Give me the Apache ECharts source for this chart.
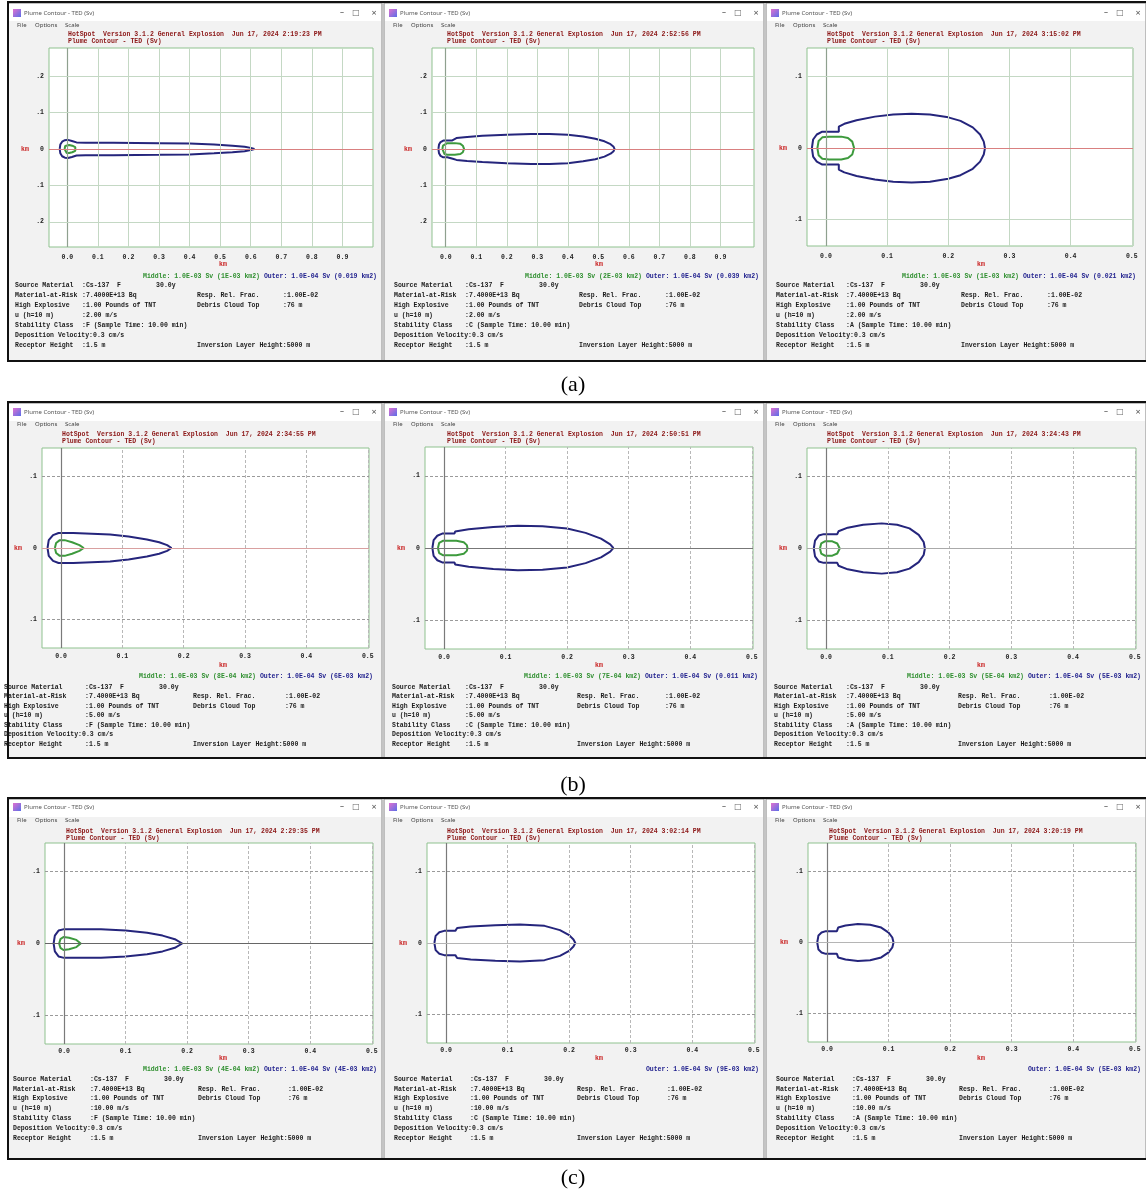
<!DOCTYPE html>
<html>
<head>
<meta charset="utf-8">
<script src="https://cdn.jsdelivr.net/npm/echarts@6/dist/echarts.min.js"></script>
<style>
  html, body { margin: 0; padding: 0; background: #fff; }
  #chart { width: 1146px; height: 1195px; }
</style>
</head>
<body>
<div id="chart"></div>
<script>
// ---- data (km), upper half of each contour, left end -> tip ----
const outerA1 = [[-0.025,0],[-0.023,0.012],[-0.017,0.020],[-0.008,0.024],[0.002,0.025],[0.015,0.022],[0.03,0.018],[0.06,0.017],[0.15,0.017],[0.3,0.016],[0.4,0.015],[0.48,0.012],[0.54,0.009],[0.58,0.006],[0.6,0.003],[0.612,0]];
const middleA1 = [[-0.009,0],[-0.007,0.008],[-0.002,0.011],[0.006,0.011],[0.016,0.009],[0.026,0.005],[0.032,0]];
const outerA2 = [[-0.024,0],[-0.022,0.012],[-0.017,0.019],[-0.008,0.023],[0.005,0.023],[0.02,0.023],[0.023,0.027],[0.035,0.03],[0.07,0.033],[0.12,0.036],[0.2,0.039],[0.28,0.041],[0.34,0.041],[0.4,0.039],[0.45,0.034],[0.49,0.028],[0.52,0.021],[0.54,0.013],[0.55,0.006],[0.553,0]];
const middleA2 = [[-0.011,0],[-0.009,0.009],[-0.004,0.014],[0.005,0.016],[0.03,0.016],[0.048,0.014],[0.056,0.009],[0.06,0]];
const outerA3 = [[-0.023,0],[-0.021,0.012],[-0.015,0.019],[-0.006,0.023],[0.021,0.023],[0.021,0.03],[0.03,0.034],[0.05,0.039],[0.08,0.044],[0.11,0.047],[0.14,0.048],[0.17,0.047],[0.2,0.043],[0.22,0.038],[0.24,0.029],[0.252,0.019],[0.258,0.009],[0.26,0]];
const middleA3 = [[-0.014,0],[-0.012,0.01],[-0.006,0.015],[0.005,0.016],[0.025,0.016],[0.036,0.014],[0.043,0.009],[0.046,0]];
const outerB1 = [[-0.022,0],[-0.02,0.011],[-0.013,0.018],[-0.004,0.021],[0.02,0.021],[0.05,0.02],[0.08,0.019],[0.11,0.016],[0.14,0.012],[0.16,0.008],[0.173,0.004],[0.18,0]];
const middleB1 = [[-0.01,0],[-0.008,0.007],[-0.002,0.011],[0.006,0.011],[0.018,0.008],[0.03,0.004],[0.037,0]];
const outerB2 = [[-0.019,0],[-0.017,0.011],[-0.011,0.017],[-0.003,0.02],[0.017,0.02],[0.018,0.023],[0.04,0.026],[0.08,0.029],[0.12,0.031],[0.16,0.03],[0.2,0.027],[0.23,0.021],[0.255,0.013],[0.27,0.005],[0.275,0]];
const middleB2 = [[-0.01,0],[-0.008,0.007],[-0.002,0.01],[0.02,0.01],[0.032,0.008],[0.037,0.004],[0.038,0]];
const outerB3 = [[-0.02,0],[-0.018,0.011],[-0.012,0.018],[-0.004,0.02],[0.018,0.02],[0.02,0.024],[0.035,0.029],[0.06,0.033],[0.09,0.035],[0.115,0.033],[0.135,0.028],[0.15,0.019],[0.158,0.009],[0.16,0]];
const middleB3 = [[-0.01,0],[-0.008,0.007],[-0.002,0.01],[0.01,0.01],[0.018,0.007],[0.022,0]];
const outerC1 = [[-0.017,0],[-0.015,0.011],[-0.009,0.018],[0.0,0.02],[0.06,0.02],[0.1,0.018],[0.135,0.015],[0.16,0.011],[0.18,0.006],[0.192,0]];
const middleC1 = [[-0.008,0],[-0.006,0.006],[-0.001,0.009],[0.008,0.008],[0.02,0.005],[0.027,0]];
const outerC2 = [[-0.019,0],[-0.017,0.01],[-0.011,0.015],[-0.003,0.017],[0.015,0.017],[0.018,0.021],[0.04,0.023],[0.08,0.025],[0.12,0.026],[0.16,0.024],[0.185,0.018],[0.2,0.011],[0.207,0.005],[0.21,0]];
const outerC3 = [[-0.016,0],[-0.014,0.01],[-0.009,0.014],[-0.002,0.016],[0.016,0.016],[0.018,0.021],[0.03,0.024],[0.05,0.026],[0.07,0.025],[0.088,0.021],[0.1,0.014],[0.106,0.007],[0.108,0]];

// tick values
const xTicksWide = [0, 0.1, 0.2, 0.3, 0.4, 0.5, 0.6, 0.7, 0.8, 0.9];
const xTicksNarrow = [0, 0.1, 0.2, 0.3, 0.4, 0.5];
const yTicksWide = [-0.2, -0.1, 0, 0.1, 0.2];
const yTicksNarrow = [-0.1, 0, 0.1];

// text content
const timeStamps = ['2:19:23 PM', '2:52:56 PM', '3:15:02 PM', '2:34:55 PM', '2:50:51 PM', '3:24:43 PM', '2:29:35 PM', '3:02:14 PM', '3:20:19 PM'];
const middleAreas = ['1E-03', '2E-03', '1E-03', '8E-04', '7E-04', '5E-04', '4E-04', null, null];
const outerAreas = ['0.019', '0.039', '0.021', '6E-03', '0.011', '5E-03', '4E-03', '9E-03', '5E-03'];
const windSpeeds = ['2.00', '5.00', '10.00'];
const stabilityClasses = ['F', 'C', 'A'];
const rowLabels = ['(a)', '(b)', '(c)'];

// ---- layout ----
const MONO = '"Liberation Mono", "DejaVu Sans Mono", monospace';
const rows = [
  { top: 3, bottom: 361, title: 13, menu: 25, head: 34, margin: 7, km: 264, legend: 276, info: 285, step: 10, label: 385 },
  { top: 403, bottom: 758, title: 412, menu: 424, head: 434, margin: 5, km: 665, legend: 676, info: 687, step: 9.5, label: 785 },
  { top: 799, bottom: 1159, title: 807, menu: 820, head: 831, margin: 4, km: 1058, legend: 1069, info: 1079, step: 9.9, label: 1178 }
];
const panelLeft = [8, 384, 766];
const panelRight = [382, 764, 1146];
const wideX = { xr: [-0.06, 1.0], yr: [-0.269, 0.277], xt: xTicksWide, yt: yTicksWide };
const narrowX = { xr: [-0.031, 0.502], yr: [-0.14, 0.14], xt: xTicksNarrow, yt: yTicksNarrow };

const panels = [
  { rect: [49, 48, 324, 199], axes: wideX, outer: outerA1, middle: middleA1, center: '#d98080', cols: [15, 82, 197, 283], head: 68, legendRight: 377 },
  { rect: [432, 48, 322, 199], axes: { ...wideX, xr: [-0.045, 1.01] }, outer: outerA2, middle: middleA2, center: '#d98080', cols: [394, 465, 579, 665], head: 447, legendRight: 759 },
  { rect: [807, 48, 326, 198], axes: { ...narrowX, yr: [-0.137, 0.14] }, outer: outerA3, middle: middleA3, center: '#d98080', cols: [776, 846, 961, 1047], head: 827, legendRight: 1136 },
  { rect: [42, 448, 327, 200], axes: narrowX, outer: outerB1, middle: middleB1, center: '#d9a0a0', cols: [4, 85, 193, 285], head: 62, legendRight: 373 },
  { rect: [425, 447, 328, 202], axes: narrowX, outer: outerB2, middle: middleB2, center: '#777777', cols: [392, 465, 577, 665], head: 447, legendRight: 758 },
  { rect: [807, 448, 329, 201], axes: narrowX, outer: outerB3, middle: middleB3, center: '#aaaaaa', cols: [774, 846, 958, 1049], head: 827, legendRight: 1141 },
  { rect: [45, 843, 328, 201], axes: narrowX, outer: outerC1, middle: middleC1, center: '#666666', cols: [13, 90, 198, 288], head: 66, legendRight: 377 },
  { rect: [427, 843, 328, 200], axes: narrowX, outer: outerC2, middle: null, center: '#b5b5b5', cols: [394, 470, 577, 667], head: 447, legendRight: 759 },
  { rect: [808, 843, 328, 199], axes: narrowX, outer: outerC3, middle: null, center: '#b5b5b5', cols: [776, 852, 959, 1049], head: 829, legendRight: 1141 }
];

function closeOutline(upper) {
  const lower = upper.slice(0, -1).reverse().map(p => [p[0], -p[1]]);
  return upper.concat(lower);
}

function txt(x, y, text, opt) {
  opt = opt || {};
  return {
    type: 'text', silent: true, z: 10,
    style: {
      x: x, y: y, text: text,
      font: opt.font || ('bold 6.5px ' + MONO),
      fill: opt.color || '#1a1a1a',
      textAlign: opt.align || 'left', align: opt.align || 'left',
      textVerticalAlign: 'middle', verticalAlign: 'middle'
    }
  };
}

const grids = [], xAxes = [], yAxes = [], series = [], graphics = [];

// window chrome
rows.forEach((r, ri) => {
  for (let c = 0; c < 3; c++) {
    const L = panelLeft[c], R = panelRight[c];
    graphics.push({ type: 'rect', silent: true, z: -5, shape: { x: L, y: r.top, width: R - L, height: r.bottom - r.top },
      style: { fill: '#f2f2f2', stroke: '#8a8a8a', lineWidth: 1 } });
    graphics.push({ type: 'rect', silent: true, z: -4, shape: { x: L + 1, y: r.top + 1, width: R - L - 2, height: 17 },
      style: { fill: '#ffffff' } });
    graphics.push({ type: 'rect', silent: true, z: -4, shape: { x: L + 5, y: r.title - 4, width: 8, height: 8 },
      style: { fill: new echarts.graphic.LinearGradient(0, 0, 1, 1, [{ offset: 0, color: '#e070d0' }, { offset: 1, color: '#5a6ee8' }]) } });
    graphics.push(txt(L + 16, r.title, 'Plume Contour - TED (Sv)', { font: '6px "Noto Sans", sans-serif', color: '#555' }));
    graphics.push(txt(R - 40, r.title, '\u2013', { font: '8px "Noto Sans", sans-serif', color: '#555', align: 'center' }));
    graphics.push(txt(R - 26, r.title, '\u25A1', { font: '8px "DejaVu Sans", sans-serif', color: '#666', align: 'center' }));
    graphics.push(txt(R - 8, r.title, '\u00D7', { font: '9px "Noto Sans", sans-serif', color: '#555', align: 'center' }));
    graphics.push(txt(L + 9, r.menu, 'File', { font: '6px "Noto Sans", sans-serif', color: '#444' }));
    graphics.push(txt(L + 27, r.menu, 'Options', { font: '6px "Noto Sans", sans-serif', color: '#444' }));
    graphics.push(txt(L + 57, r.menu, 'Scale', { font: '6px "Noto Sans", sans-serif', color: '#444' }));
  }
  graphics.push({ type: 'rect', silent: true, z: 20, shape: { x: 8, y: r.top - 1, width: 1146, height: r.bottom - r.top + 1 },
    style: { fill: null, stroke: '#111', lineWidth: 2 } });
  graphics.push(txt(573, r.label, rowLabels[ri], { font: '22px "Liberation Serif", "DejaVu Serif", serif', color: '#000', align: 'center' }));
});

panels.forEach((p, i) => {
  const ri = Math.floor(i / 3), ci = i % 3;
  const r = rows[ri];
  const a = p.axes;
  const [gl, gt, gw, gh] = p.rect;

  grids.push({ left: gl, top: gt, width: gw, height: gh, show: true, backgroundColor: '#ffffff', borderColor: '#8fc28f', borderWidth: 1 });
  const labelStyle = { fontFamily: MONO, fontSize: 6.5, fontWeight: 'bold', color: '#222' };
  xAxes.push({ type: 'value', gridIndex: i, min: a.xr[0], max: a.xr[1],
    axisLine: { show: false }, axisTick: { show: false }, splitLine: { show: false },
    axisLabel: { ...labelStyle, customValues: a.xt, margin: r.margin, formatter: v => v.toFixed(1) } });
  yAxes.push({ type: 'value', gridIndex: i, min: a.yr[0], max: a.yr[1],
    axisLine: { show: false }, axisTick: { show: false }, splitLine: { show: false },
    axisLabel: { ...labelStyle, customValues: a.yt, margin: 5,
      formatter: v => (Math.abs(v) < 1e-9 ? '0' : '.' + Math.round(Math.abs(v) * 10)) } });

  // grid lines
  const solidGrid = ri === 0;
  const vStyle = solidGrid ? { color: '#c4d8c4', type: 'solid', width: 1 } : { color: '#b8b8b8', type: [3, 2], width: 1 };
  const hStyle = solidGrid ? { color: '#c4d8c4', type: 'solid', width: 1 } : { color: '#9a9a9a', type: [3, 2], width: 1 };
  const zeroStyle = { color: solidGrid ? '#8fa08f' : '#7a7a7a', type: 'solid', width: 1.2 };
  const lines = [];
  a.xt.forEach(v => lines.push({ xAxis: v, lineStyle: v === 0 ? zeroStyle : vStyle }));
  a.yt.forEach(v => lines.push({ yAxis: v, lineStyle: v === 0 ? { color: p.center, type: 'solid', width: 1 } : hStyle }));
  series.push({ type: 'line', xAxisIndex: i, yAxisIndex: i, data: [], silent: true, z: 1,
    markLine: { silent: true, symbol: ['none', 'none'], label: { show: false }, animation: false, data: lines } });

  series.push({ type: 'line', xAxisIndex: i, yAxisIndex: i, data: closeOutline(p.outer), showSymbol: false, silent: true, z: 3,
    lineStyle: { color: '#25257c', width: 2 } });
  if (p.middle) {
    series.push({ type: 'line', xAxisIndex: i, yAxisIndex: i, data: closeOutline(p.middle), showSymbol: false, silent: true, z: 4,
      lineStyle: { color: '#3d9a3d', width: 2 } });
  }

  // header
  graphics.push(txt(p.head, r.head, 'HotSpot  Version 3.1.2 General Explosion  Jun 17, 2024 ' + timeStamps[i], { color: '#8b1515' }));
  graphics.push(txt(p.head, r.head + 7.5, 'Plume Contour - TED (Sv)', { color: '#8b1515' }));

  // axis names
  const yZero = gt + gh * a.yr[1] / (a.yr[1] - a.yr[0]);
  graphics.push(txt(gl - 24, yZero, 'km', { color: '#c81e1e', align: 'center' }));
  graphics.push(txt(panelLeft[ci] + 215, r.km, 'km', { color: '#c81e1e', align: 'center' }));

  // legend
  const outerText = 'Outer: 1.0E-04 Sv (' + outerAreas[i] + ' km2)';
  graphics.push(txt(p.legendRight, r.legend, outerText, { color: '#1c1c8c', align: 'right' }));
  if (middleAreas[i]) {
    const middleText = 'Middle: 1.0E-03 Sv (' + middleAreas[i] + ' km2)';
    graphics.push(txt(p.legendRight - (outerText.length + 1) * 3.9, r.legend, middleText, { color: '#2f8f2f', align: 'right' }));
  }

  // info block
  const [c0, c1, c2, c3] = p.cols;
  const info = [
    ['Source Material', ':Cs-137  F         30.0y', null, null],
    ['Material-at-Risk', ':7.4000E+13 Bq', 'Resp. Rel. Frac.', ':1.00E-02'],
    ['High Explosive', ':1.00 Pounds of TNT', 'Debris Cloud Top', ':76 m'],
    ['u (h=10 m)', ':' + windSpeeds[ri] + ' m/s', null, null],
    ['Stability Class', ':' + stabilityClasses[ci] + ' (Sample Time: 10.00 min)', null, null],
    ['Deposition Velocity:0.3 cm/s', null, null, null],
    ['Receptor Height', ':1.5 m', 'Inversion Layer Height:5000 m', null]
  ];
  info.forEach((line, k) => {
    const y = r.info + k * r.step;
    graphics.push(txt(c0, y, line[0]));
    if (line[1]) graphics.push(txt(c1, y, line[1]));
    if (line[2]) graphics.push(txt(c2, y, line[2]));
    if (line[3]) graphics.push(txt(c3, y, line[3]));
  });
});

const chart = echarts.init(document.getElementById('chart'));
chart.setOption({
  animation: false,
  backgroundColor: '#ffffff',
  grid: grids,
  xAxis: xAxes,
  yAxis: yAxes,
  series: series,
  graphic: { elements: graphics }
});
</script>
</body>
</html>
